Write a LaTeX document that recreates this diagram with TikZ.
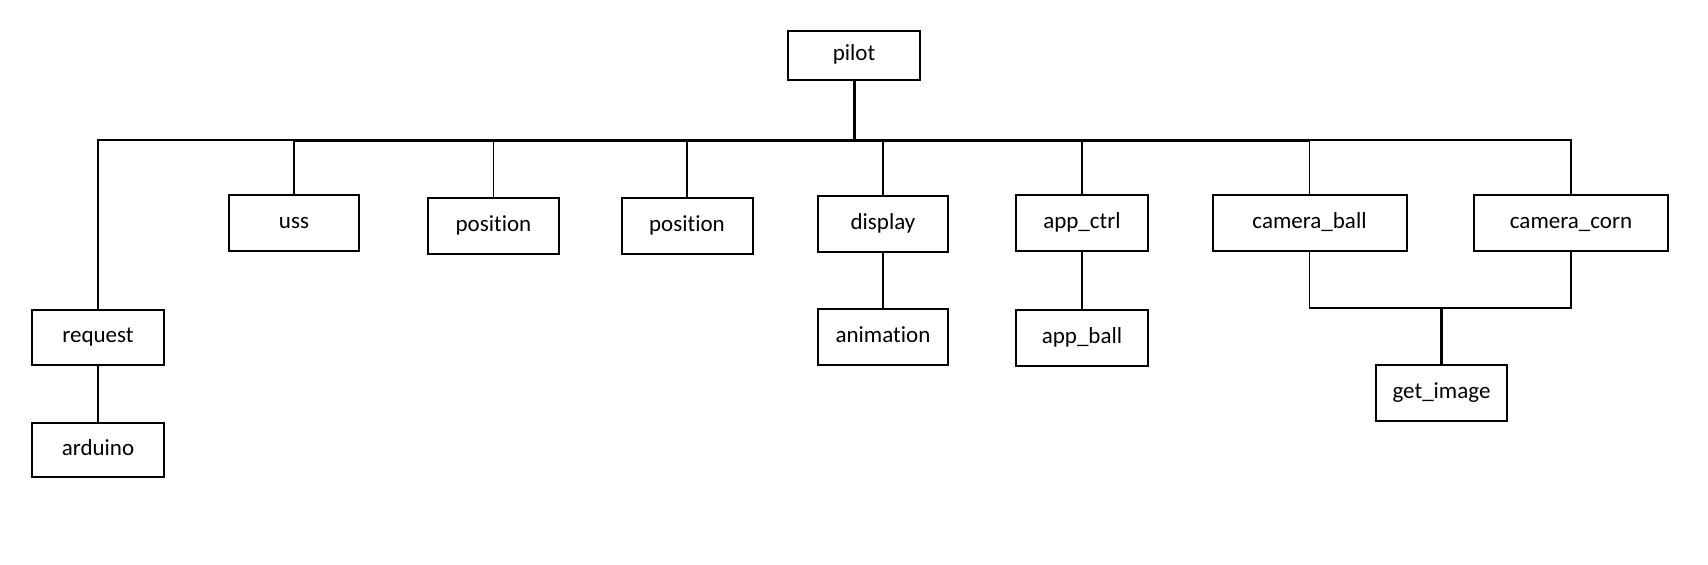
\documentclass[tikz,border=0pt]{standalone}
\usepackage{fontspec}
\setmainfont{Carlito}[Ligatures=CommonOff]
\tikzset{
    blok/.style={draw, line width=1pt, inner sep=0pt, text height=7.5pt, text depth=2.5pt,
        font=\fontsize{11.5}{13}\selectfont},
    cienka/.style={line width=0.75pt},
    gruba/.style={line width=1.5pt}
}
\begin{document}
\begin{tikzpicture}[x=0.5pt, y=-0.5pt]
        \useasboundingbox (0,0) rectangle (1708,564);

        % Dane: nazwa/x/y/szerokosc/wysokosc/tekst
        \def\bloki{
            pilot/854/55.5/132/49/pilot,
            uss/294/223/130/56/uss,
            pozycja1/493.5/226/131/56/position,
            pozycja2/687/226/131/56/position,
            display/883/224/130/56/display,
            appctrl/1082/223/132/56/app\_ctrl,
            camball/1309.5/223/194/56/camera\_ball,
            camcorn/1571/223/194/56/camera\_corn,
            request/98/337.5/132/55/request,
            arduino/98/450/132/54/arduino,
            animation/883/337/130/56/animation,
            appball/1082/338/132/56/app\_ball,
            getimage/1441.5/393/131/56/get\_image
        }

        % Bloki
        \foreach \n/\x/\y/\w/\h/\t in \bloki {
            \node[blok, minimum width=\w*0.5pt, minimum height=\h*0.5pt] (\n) at (\x,\y) {\t};
        }

        % Szyna
        \coordinate (szyna) at (854,140);
        \draw[cienka] (request.north) |- (camcorn.north |- szyna) -- (camcorn.north);
        \draw[gruba] (uss.north |- szyna) -- (camball.north |- szyna);
        \draw[gruba] (pilot.south) -- (pilot.south |- szyna);
        \foreach \n in {uss, pozycja1, pozycja2, display, appctrl, camball} {
            \draw[cienka] (\n.north) -- (\n.north |- szyna);
        }

        % Polaczenia w dol
        \draw[cienka] (request) -- (arduino);
        \draw[cienka] (display) -- (animation);
        \draw[cienka] (appctrl) -- (appball);

        \coordinate (zlacze) at (getimage.north |- 0,308);
        \draw[cienka] (camball.south) |- (zlacze) -| (camcorn.south);
        \draw[gruba] (zlacze) -- (getimage.north);
    \end{tikzpicture}
\end{document}
